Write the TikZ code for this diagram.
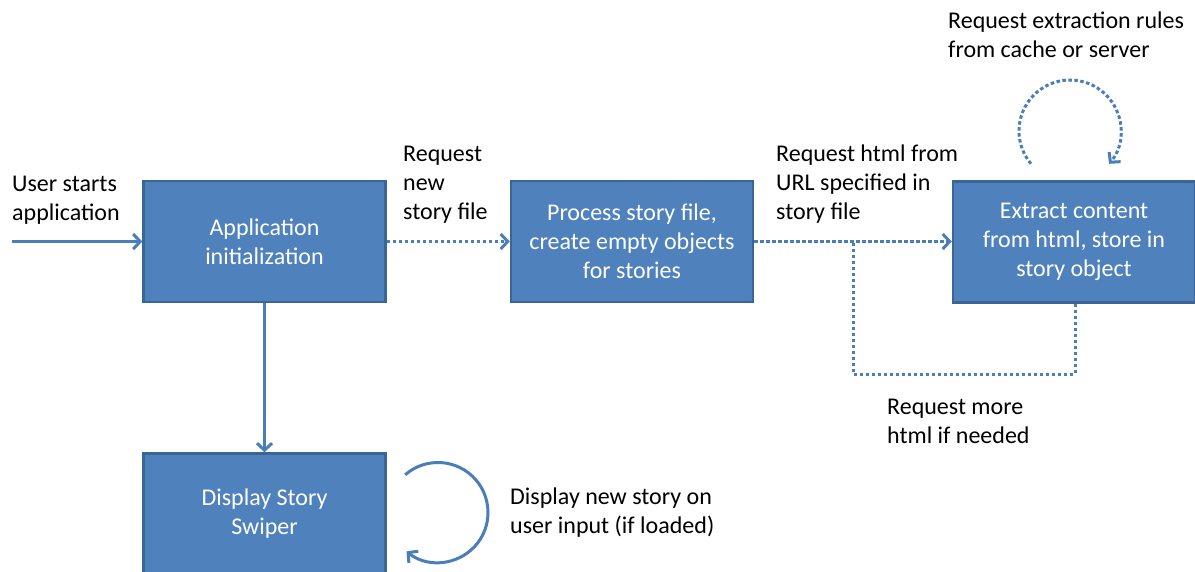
\documentclass[tikz,border=0pt]{standalone}
\usepackage{fontspec}
\setmainfont{Carlito}
\usetikzlibrary{arrows.meta}
\definecolor{boxfill}{HTML}{4F81BD}
\definecolor{boxedge}{HTML}{3A6595}
\definecolor{linec}{HTML}{4A7EBB}
\tikzset{
  procbox/.style={draw=boxedge, line width=2.5pt, fill=boxfill, text=white,
    minimum width=242pt, minimum height=121pt, inner sep=0pt, align=center,
    font=\fontsize{24}{29}\selectfont},
  lbl/.style={anchor=west, inner sep=0pt, align=left, text=black,
    font=\fontsize{24}{29}\selectfont},
  conn/.style={draw=linec, line width=3pt, -{Straight Barb[length=7pt,width=15pt,line width=3pt]}},
  dotconn/.style={conn, dash pattern=on 3.5pt off 2.5pt},
  dotline/.style={draw=linec, line width=3pt, dash pattern=on 3.5pt off 2.5pt}
}
\begin{document}
\begin{tikzpicture}[x=1pt,y=-1pt]
\clip (0,0) rectangle (1195,571);
\fill[white] (0,0) rectangle (1195,571);

\node[procbox] (A) at (264.5,241.5) {Application\\initialization};
\node[procbox] (B) at (632,241.5) {Process story file,\\create empty objects\\for stories};
\node[procbox] (C) at (1074,242) {Extract content\\from html, store in\\story object};
\node[procbox] (D) at (264.5,514) {Display Story\\Swiper};

\node[lbl] (tUser) at (12,200) {User starts\\application};
\node[lbl] (tReq) at (403,185) {Request\\new\\story file};
\node[lbl] (tHtml) at (776,184) {Request html from\\URL specified in\\story file};
\node[lbl] (tRules) at (948,35) {Request extraction rules\\from cache or server};
\node[lbl] (tMore) at (887,421) {Request more\\html if needed};
\node[lbl] (tDisp) at (510,513) {Display new story on\\user input (if loaded)};

\coordinate (start) at (12,241.5);
\draw[conn] (start) -- (A.west);
\draw[dotconn] (A.east) -- (B.west);
\draw[dotconn] (B.east) -- (C.west |- B.east);
\draw[conn] (A.south) -- (D.north);

\coordinate (fbR) at (1075,374);
\coordinate (fbL) at (853,374);
\coordinate (fbT) at (853,242);
\draw[dotline] (C.south -| fbR) -- (fbR) -- (fbL) -- (fbT);

\draw[dotconn] (1070,131) ++(140:51) arc[start angle=140, end angle=400, radius=51];
\draw[conn] (438,512.5) ++(229:50) arc[start angle=229, end angle=489, radius=50];
\end{tikzpicture}
\end{document}
